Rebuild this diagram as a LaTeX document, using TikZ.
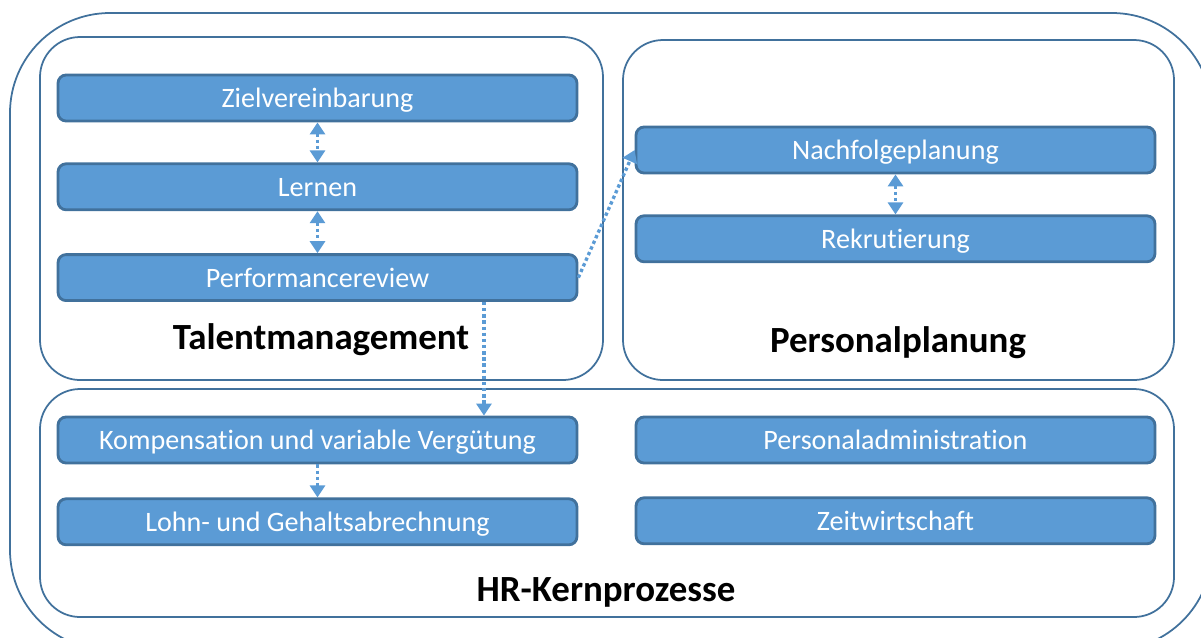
\documentclass[tikz,border=0pt]{standalone}
\usepackage{fontspec}
\setmainfont[Ligatures=NoCommon]{Carlito}
\usetikzlibrary{arrows.meta,positioning}

\definecolor{boxfill}{HTML}{5B9BD5}
\definecolor{boxline}{HTML}{41719C}

\begin{document}
\begin{tikzpicture}[x=0.02cm,y=-0.02cm,
    area/.style={draw=boxline,line width=1pt},
    proc/.style={rectangle,rounded corners=0.16cm,draw=boxline,line width=1.6pt,fill=boxfill,
      text=white,font=\fontsize{16}{18}\selectfont,minimum width=10.38cm,minimum height=0.92cm,
      text height=0.38cm,text depth=0cm},
    title/.style={font=\fontsize{21}{24}\selectfont\bfseries},
    link/.style={boxfill,line width=1.9pt,dash pattern=on 1.9pt off 1.6pt,
      arrows={-Triangle[width=0.3cm,length=0.24cm]}},
    both/.style={link,arrows={Triangle[width=0.3cm,length=0.24cm]-Triangle[width=0.3cm,length=0.24cm]}}]

    \clip (0,0) rectangle (1201,637);
    \useasboundingbox (0,0) rectangle (1201,637);

    % outer frame and the three areas
    \draw[area,rounded corners=2cm] (10,13) rectangle (1212,650);
    \draw[area,rounded corners=0.8cm] (40,37) rectangle (603,380);
    \draw[area,rounded corners=0.8cm] (623,40) rectangle (1174,380);
    \draw[area,rounded corners=0.8cm] (40,389) rectangle (1174,617);

    % Talentmanagement
    \node[proc] (ziel) at (317.5,98) {Zielvereinbarung};
    \node[proc] (lernen) [below=0.8cm of ziel] {Lernen};
    \node[proc] (perf) [below=0.84cm of lernen] {Performancereview};
    \node[title] (tm) at (321,340) {Talentmanagement};

    % Personalplanung
    \node[proc] (nachf) at (895.5,150) {Nachfolgeplanung};
    \node[proc] (rekr) [below=0.8cm of nachf] {Rekrutierung};
    \node[title] (pp) at (898,343) {Personalplanung};

    % HR-Kernprozesse
    \node[proc] (komp) at (317.5,440) {Kompensation und variable Vergütung};
    \node[proc] (lohn) [below=0.66cm of komp] {Lohn- und Gehaltsabrechnung};
    \node[proc] (padm) at (895.5,440) {Personaladministration};
    \node[proc] (zeit) [below=0.64cm of padm] {Zeitwirtschaft};
    \node[title] (hr) at (606,592) {HR-Kernprozesse};

    \draw[both] (ziel) -- (lernen);
    \draw[both] (lernen) -- (perf);
    \draw[both] (nachf) -- (rekr);
    \draw[link] (perf.east) -- (nachf.west);
    \draw[link] ([xshift=3.33cm]perf.south) -- ([xshift=3.33cm]komp.north);
    \draw[link] (komp) -- (lohn);
\end{tikzpicture}
\end{document}
